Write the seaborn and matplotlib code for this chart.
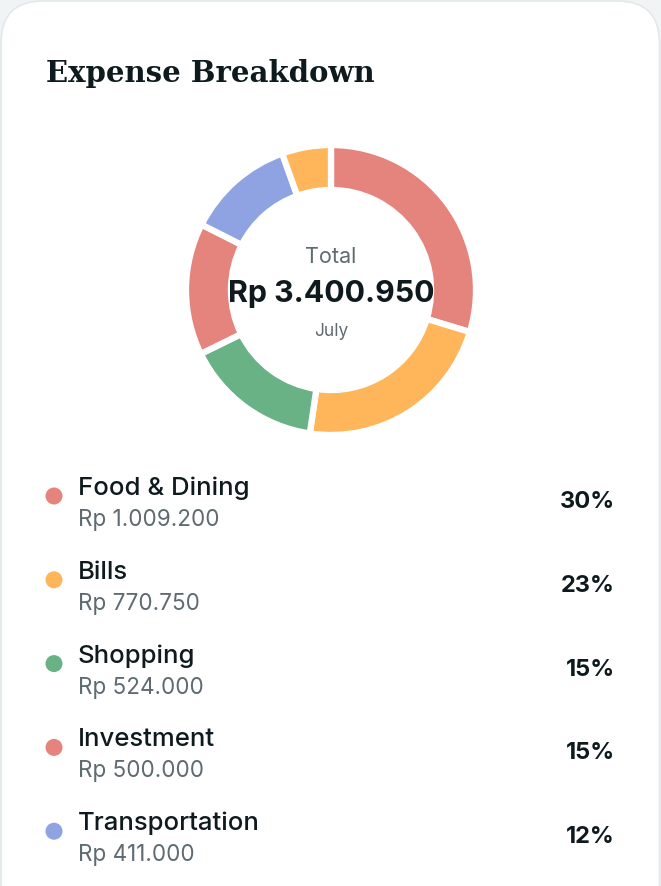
import matplotlib
matplotlib.use("Agg")
import matplotlib.pyplot as plt
from matplotlib.patches import FancyBboxPatch
import seaborn as sns
import pandas as pd

categories = ["Food & Dining", "Bills", "Shopping", "Investment", "Transportation", "Other"]
amounts = [1009200, 770750, 524000, 500000, 411000, 186000]
amount_labels = ["Rp 1.009.200", "Rp 770.750", "Rp 524.000", "Rp 500.000", "Rp 411.000", "Rp 186.000"]
percent_labels = ["30%", "23%", "15%", "15%", "12%", "5%"]
colors = ["#E5847C", "#FFB65A", "#69B286", "#E5847C", "#8FA3E3", "#FFB65A"]
total_label = "Rp 3.400.950"
month = "July"

W, H = 661, 887
DARK = "#0E1A1D"
GREY = "#5E6B70"

sns.set_theme(style="white")
plt.rcParams["font.family"] = ["Inter", "DejaVu Sans"]

fig = plt.figure(figsize=(W / 100, H / 100), dpi=100)
fig.patch.set_facecolor("#F1F4F4")

# overlay axes in pixel coordinates
bg = fig.add_axes([0, 0, 1, 1])
bg.set_xlim(0, W)
bg.set_ylim(H, 0)
bg.axis("off")

card = FancyBboxPatch((1, 2), W - 2.5, H + 80, boxstyle="round,pad=0,rounding_size=42",
                      facecolor="white", edgecolor="#E3E8E8", linewidth=1.2, zorder=0)
bg.add_patch(card)

bg.text(46, 82, "Expense Breakdown", fontsize=21, fontweight="bold",
        family="DejaVu Serif", color=DARK, va="baseline", ha="left")

# legend rows (the last category is below the visible area)
legend = pd.DataFrame({"cat": categories[:5], "row": range(5)})
legend["x"] = 54
legend["y"] = 497 + legend["row"] * 83.8
sns.scatterplot(data=legend, x="x", y="y", hue="row", palette=colors[:5],
                s=150, linewidth=0, legend=False, ax=bg, zorder=3)
bg.set_xlabel("")
bg.set_ylabel("")
bg.set_xlim(0, W)
bg.set_ylim(H, 0)
bg.axis("off")

for i in range(5):
    y0 = 495 + i * 83.8
    bg.text(78, y0, categories[i], fontsize=18.5, fontweight="medium", color=DARK,
            va="baseline", ha="left")
    bg.text(78, y0 + 31, amount_labels[i], fontsize=16.2, color=GREY,
            va="baseline", ha="left")
    bg.text(615, y0 + 13, percent_labels[i], fontsize=17, fontweight="bold",
            color=DARK, va="baseline", ha="right")

# donut
cx, cy, r = 331, 291, 145
ax = fig.add_axes([(cx - r) / W, 1 - (cy + r) / H, 2 * r / W, 2 * r / H])
ax.patch.set_alpha(0)
ax.pie(amounts, colors=colors, startangle=90, counterclock=False, radius=1,
       wedgeprops=dict(width=0.31, edgecolor="white", linewidth=4.5))
ax.set_xlim(-1.0, 1.0)
ax.set_ylim(-1.0, 1.0)
ax.set_aspect("equal")
ax.axis("off")

# centre labels drawn with the donut axes so they sit on top of the ring
ax.text(cx, 263, "Total", fontsize=15.5, color=GREY, ha="center", va="baseline",
        transform=bg.transData, clip_on=False)
ax.text(cx, 302, total_label, fontsize=21.8, fontweight="bold", color=DARK,
        ha="center", va="baseline", transform=bg.transData, clip_on=False)
ax.text(cx, 336, month, fontsize=12.5, color=GREY, ha="center", va="baseline",
        transform=bg.transData, clip_on=False)

fig.savefig("out.png", dpi=100, facecolor=fig.get_facecolor())
